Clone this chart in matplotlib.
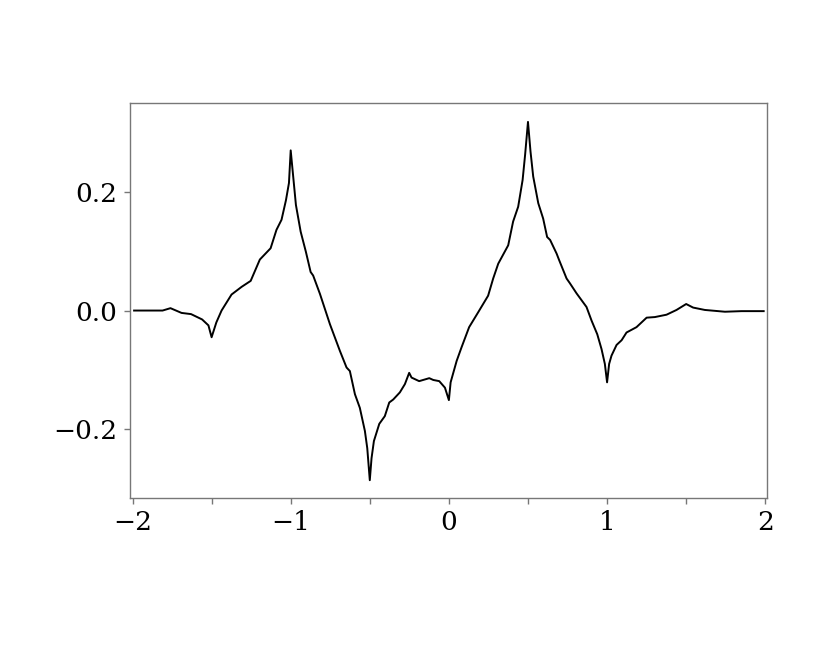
import numpy as np
import matplotlib
matplotlib.use("Agg")
import matplotlib.pyplot as plt

# curve
x_vals = [-1.99, -1.81, -1.76, -1.69, -1.63, -1.56, -1.52, -1.50, -1.47, -1.437,
          -1.374, -1.31, -1.253, -1.195, -1.127, -1.09, -1.058, -1.03, -1.011, -1.0,
          -0.967, -0.937, -0.904, -0.874, -0.858, -0.815, -0.752, -0.689, -0.647, -0.626,
          -0.594, -0.563, -0.531, -0.516, -0.50, -0.489, -0.474, -0.44, -0.405, -0.377,
          -0.352, -0.31, -0.278, -0.251, -0.236, -0.188, -0.124, -0.099, -0.061, -0.025,
          0.0, 0.011, 0.049, 0.08, 0.128, 0.185, 0.248, 0.280, 0.312, 0.375,
          0.406, 0.438, 0.466, 0.482, 0.5, 0.516, 0.533, 0.565, 0.596, 0.621,
          0.640, 0.681, 0.697, 0.744, 0.765, 0.807, 0.870, 0.902, 0.938, 0.965,
          0.986, 1.0, 1.013, 1.028, 1.06, 1.092, 1.123, 1.186, 1.25, 1.302,
          1.376, 1.439, 1.50, 1.544, 1.618, 1.745, 1.85, 1.99]
y_vals = [0.0, 0.0, 0.004, -0.004, -0.006, -0.015, -0.025, -0.045, -0.020, 0.0,
          0.027, 0.040, 0.050, 0.086, 0.105, 0.136, 0.153, 0.186, 0.215, 0.270,
          0.178, 0.133, 0.099, 0.065, 0.059, 0.028, -0.023, -0.068, -0.096, -0.102,
          -0.141, -0.164, -0.203, -0.232, -0.286, -0.249, -0.220, -0.191, -0.178, -0.155,
          -0.150, -0.138, -0.124, -0.105, -0.113, -0.119, -0.114, -0.117, -0.119, -0.130,
          -0.151, -0.121, -0.085, -0.062, -0.028, -0.003, 0.025, 0.054, 0.079, 0.110,
          0.150, 0.175, 0.220, 0.263, 0.318, 0.268, 0.226, 0.181, 0.155, 0.124,
          0.119, 0.096, 0.085, 0.054, 0.046, 0.029, 0.006, -0.017, -0.040, -0.065,
          -0.090, -0.121, -0.090, -0.076, -0.058, -0.050, -0.037, -0.028, -0.012, -0.011,
          -0.007, 0.001, 0.011, 0.005, 0.001, -0.002, -0.001, -0.001]

x_ticks = [-2, -1.5, -1, -0.5, 0, 0.5, 1, 1.5, 2]
x_labels = ["\u22122", "", "\u22121", "", "0", "", "1", "", "2"]
y_ticks = [-0.2, 0.0, 0.2]
y_labels = ["\u22120.2", "0.0", "0.2"]

plt.rcParams["font.family"] = ["DejaVu Serif"]

fig = plt.figure(figsize=(8.3, 6.64), dpi=100)
ax = fig.add_axes([0.1566, 0.25, 0.7675, 0.595])

ax.plot(x_vals, y_vals, color="black", lw=1.4)

ax.set_xlim(-2.016, 2.011)
ax.set_ylim(-0.316, 0.350)
ax.set_xticks(x_ticks)
ax.set_xticklabels(x_labels)
ax.set_yticks(y_ticks)
ax.set_yticklabels(y_labels)

for s in ax.spines.values():
    s.set_color("#777777")
    s.set_linewidth(1.0)
ax.tick_params(direction="out", length=4, width=1.0, color="#777777",
               labelsize=19, pad=5)

fig.savefig("out.png", dpi=100)
